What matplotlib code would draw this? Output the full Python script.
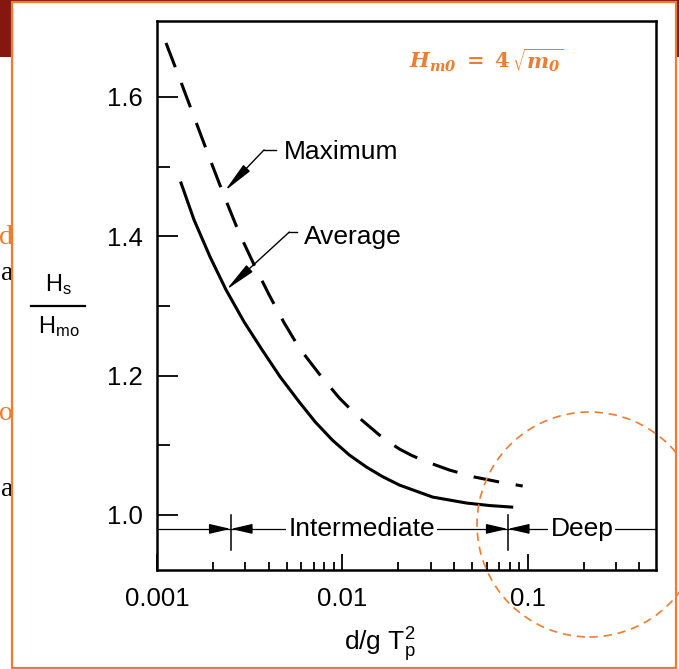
import numpy as np
import matplotlib
matplotlib.use('Agg')
import matplotlib.pyplot as plt
from matplotlib.patches import Rectangle, Ellipse
from matplotlib.lines import Line2D
from matplotlib.ticker import FixedLocator, NullFormatter

plt.rcParams['font.family'] = ['Liberation Sans', 'DejaVu Sans']
plt.rcParams['mathtext.fontset'] = 'custom'
plt.rcParams['mathtext.rm'] = 'Liberation Sans'
plt.rcParams['mathtext.it'] = 'Liberation Sans:italic'
plt.rcParams['mathtext.bf'] = 'Liberation Sans:bold'

# curves (d/gT^2 , Hs/Hm0)
max_x = [0.001118, 0.001315, 0.001585, 0.00191, 0.002302, 0.002775, 0.003344,
         0.00403, 0.004858, 0.005855, 0.00751, 0.009634, 0.012357, 0.015849,
         0.017951, 0.020328, 0.023597, 0.027747, 0.037888, 0.051701, 0.070599,
         0.093966]
max_y = [1.6775, 1.6287, 1.5713, 1.5139, 1.4579, 1.4047, 1.3588,
         1.3157, 1.2755, 1.2396, 1.2023, 1.1678, 1.1391, 1.1147,
         1.1039, 1.0946, 1.0856, 1.0774, 1.0644, 1.0544, 1.0472,
         1.0415]
avg_x = [0.001348, 0.001585, 0.001934, 0.00236, 0.002953, 0.003696, 0.004623,
         0.005855, 0.007145, 0.008829, 0.010909, 0.013485, 0.016451, 0.020328,
         0.03066, 0.046813, 0.062327, 0.081936]
avg_y = [1.4765, 1.4234, 1.3703, 1.3229, 1.2769, 1.2367, 1.198,
         1.1621, 1.1334, 1.1075, 1.086, 1.0688, 1.0551, 1.0429,
         1.0257, 1.0171, 1.0135, 1.0113]

x_ticks = [0.001, 0.01, 0.1]
x_labels = ['0.001', '0.01', '0.1']
y_ticks = [1.0, 1.2, 1.4, 1.6]
y_labels = ['1.0', '1.2', '1.4', '1.6']

# depth zone limits
intermediate_lim = 0.0025
deep_lim = 0.078
zone_y = 0.98

orange = '#ED7D31'
darkred = '#84170F'

W, H = 679, 669
fig = plt.figure(figsize=(W / 100, H / 100), dpi=100)
fig.patch.set_facecolor('white')

# slide bits around the picture
fig.add_artist(Rectangle((0, 1 - 57 / H), 1, 57 / H, transform=fig.transFigure,
                         facecolor=darkred, edgecolor='none', zorder=-5))
for ch, yc, col in [('d', 237, orange), ('a', 273, 'black'),
                    ('o', 413, orange), ('a', 490, 'black')]:
    fig.text(13 / W, 1 - yc / H, ch, ha='right', va='center', color=col,
             fontsize=20, family='Liberation Serif', zorder=-4)
fig.add_artist(Rectangle((12 / W, 1 / H), 664 / W, 666 / H, transform=fig.transFigure,
                         facecolor='white', edgecolor=orange, lw=1.6, zorder=-1))

ax = fig.add_axes([157 / W, 1 - 570 / H, (656 - 157) / W, (570 - 21) / H])
ax.set_facecolor('none')
ax.set_xscale('log')
ax.set_xlim(0.001, 0.492)
ax.set_ylim(0.921, 1.709)

ax.plot(max_x, max_y, color='black', lw=2.2, dashes=(8.5, 5.5))
ax.plot(avg_x, avg_y, color='black', lw=2.2)

for s in ax.spines.values():
    s.set_linewidth(1.8)

ax.xaxis.set_major_locator(FixedLocator(x_ticks))
ax.set_xticklabels(x_labels)
ax.xaxis.set_minor_locator(FixedLocator(
    [m * d for d in (0.001, 0.01, 0.1) for m in range(2, 10) if m * d < 0.49]))
ax.xaxis.set_minor_formatter(NullFormatter())
ax.set_yticks(y_ticks)
ax.set_yticklabels(y_labels)
ax.set_yticks([1.1, 1.3, 1.5], minor=True)

ax.tick_params(which='both', direction='in', top=False, right=False, width=1.3)
ax.tick_params(axis='x', which='major', length=11.5, pad=12, labelsize=18.5)
ax.tick_params(axis='x', which='minor', length=6)
ax.tick_params(axis='y', which='major', length=15, pad=10, labelsize=18.5)
ax.tick_params(axis='y', which='minor', length=9.5)

# zone line with crosses
ax.axhline(zone_y, color='black', lw=0.9)
for xb in (intermediate_lim, deep_lim):
    ax.plot([xb, xb], [0.949, 1.0], color='black', lw=1.1)
    for xs in (xb / 1.3, xb * 1.3):
        ax.annotate('', xy=(xb, zone_y), xytext=(xs, zone_y),
                    arrowprops=dict(arrowstyle='-|>,head_length=1.3,head_width=0.3',
                                    color='black', lw=1, mutation_scale=10,
                                    shrinkA=0, shrinkB=0))
ax.text(0.01268, zone_y, 'Intermediate', ha='center', va='center', fontsize=19,
        bbox=dict(facecolor='white', edgecolor='none', pad=1.5))
ax.text(0.196, zone_y, 'Deep', ha='center', va='center', fontsize=19,
        bbox=dict(facecolor='white', edgecolor='none', pad=1.5))

# leaders to curve names
leaders = [('Maximum', (0.00232, 1.465), (0.00378, 1.524), (0.0044, 1.524), 0.00486, 1.521),
           ('Average', (0.00236, 1.323), (0.00517, 1.406), (0.00572, 1.406), 0.00623, 1.399)]
for name, tip, bend, end, tx, ty in leaders:
    ax.plot([bend[0], end[0]], [bend[1], end[1]], color='black', lw=1)
    ax.annotate('', xy=tip, xytext=bend,
                arrowprops=dict(arrowstyle='-|>,head_length=1.9,head_width=0.28',
                                color='black', lw=1, mutation_scale=10,
                                shrinkA=0, shrinkB=0))
    ax.text(tx, ty, name, ha='left', va='center', fontsize=19)

# axis labels
fig.text(58.5 / W, 1 - 291 / H, r'$\mathregular{H_s}$', ha='center', va='baseline', fontsize=17)
fig.add_artist(Line2D([31 / W, 85 / W], [1 - 306 / H, 1 - 306 / H], color='black',
                      lw=1.6, transform=fig.transFigure))
fig.text(58.5 / W, 1 - 333 / H, r'$\mathregular{H_{mo}}$', ha='center', va='baseline', fontsize=17)
fig.text(380 / W, 1 - 651 / H, r'd/g $\mathregular{T_p^2}$', ha='center', va='baseline',
         fontsize=19)

# orange formula and marker circle
fig.text(486 / W, 1 - 68 / H, r'$\mathbfit{H_{m0}}\ \mathbf{=\ 4}\,\sqrt{\mathbfit{m_0}}$',
         ha='center', va='baseline', fontsize=15, color=orange, math_fontfamily='dejavuserif')
fig.add_artist(Ellipse((589.5 / W, 1 - 524.5 / H), 225 / W, 225 / H, transform=fig.transFigure,
                       facecolor='none', edgecolor=orange, lw=1.2,
                       linestyle=(0, (5, 3.5)), zorder=5))

fig.savefig('out.png', dpi=100)
